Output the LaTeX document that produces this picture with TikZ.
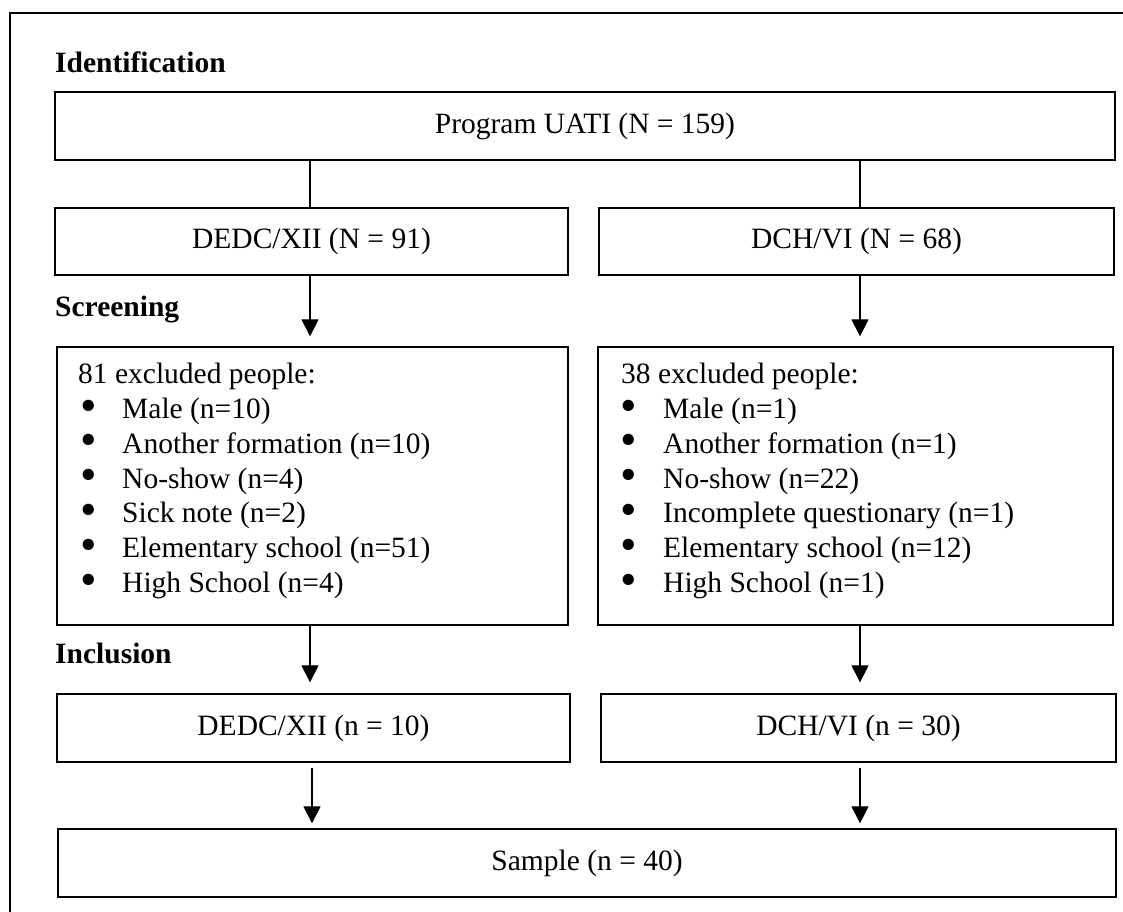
\documentclass[tikz,border=0pt]{standalone}
\usepackage{fontspec}
\usepackage{graphicx}
\setmainfont{Liberation Serif}
\usetikzlibrary{arrows.meta}
\newcommand{\bigbul}{\smash{\raisebox{-2.6pt}{\scalebox{1.6}{•}}}}
\begin{document}
\begin{tikzpicture}[x=1pt,y=-1pt,
  every node/.style={font=\fontsize{29.5pt}{34.8pt}\selectfont},
  box/.style={draw, line width=1.3pt, rectangle, inner sep=0pt},
  heading/.style={anchor=base west, inner sep=0pt, font=\fontsize{29.5pt}{34.8pt}\selectfont\bfseries},
  listtext/.style={anchor=north west, inner sep=0pt, align=left},
  arr/.style={line width=1.2pt, -{Triangle[width=17pt,length=17pt]}},
  link/.style={line width=1.2pt}]
\useasboundingbox (0,0) rectangle (1123,911);
% outer frame
\coordinate (fbl) at (10,915);
\coordinate (ftl) at (10,13);
\coordinate (ftr) at (1127,13);
\draw[line width=2pt] (fbl) -- (ftl) -- (ftr);

% headings
\node[heading] (hid) at (55,72) {Identification};
\node[heading] (hsc) at (55,316) {Screening};
\node[heading] (hin) at (55,663) {Inclusion};

% boxes
\node[box, minimum width=1060pt, minimum height=68pt] (prog) at (585,126) {Program UATI (N = 159)};
\node[box, minimum width=513pt, minimum height=67pt] (dedc) at (311.5,241.5) {DEDC/XII (N = 91)};
\node[box, minimum width=515pt, minimum height=67pt] (dch) at (856.5,241.5) {DCH/VI (N = 68)};
\node[box, minimum width=511pt, minimum height=278pt] (exL) at (312.5,486) {};
\node[box, minimum width=515pt, minimum height=278pt] (exR) at (855.5,486) {};
\node[box, minimum width=513pt, minimum height=68pt] (incL) at (313.5,728) {DEDC/XII (n = 10)};
\node[box, minimum width=515pt, minimum height=68pt] (incR) at (858.5,728) {DCH/VI (n = 30)};
\node[box, minimum width=1058pt, minimum height=68pt] (sample) at (587,863) {Sample (n = 40)};

% list texts
\node[listtext] (exLt) at (78,363) {81 excluded people:\\
\makebox[44pt][l]{\hspace{2pt}\bigbul}Male (n=10)\\
\makebox[44pt][l]{\hspace{2pt}\bigbul}Another formation (n=10)\\
\makebox[44pt][l]{\hspace{2pt}\bigbul}No-show (n=4)\\
\makebox[44pt][l]{\hspace{2pt}\bigbul}Sick note (n=2)\\
\makebox[44pt][l]{\hspace{2pt}\bigbul}Elementary school (n=51)\\
\makebox[44pt][l]{\hspace{2pt}\bigbul}High School (n=4)};
\node[listtext] (exRt) at (621,363) {38 excluded people:\\
\makebox[42pt][l]{\hspace{-1pt}\bigbul}Male (n=1)\\
\makebox[42pt][l]{\hspace{-1pt}\bigbul}Another formation (n=1)\\
\makebox[42pt][l]{\hspace{-1pt}\bigbul}No-show (n=22)\\
\makebox[42pt][l]{\hspace{-1pt}\bigbul}Incomplete questionary (n=1)\\
\makebox[42pt][l]{\hspace{-1pt}\bigbul}Elementary school (n=12)\\
\makebox[42pt][l]{\hspace{-1pt}\bigbul}High School (n=1)};

% connectors
\draw[link] ([xshift=-1.5pt]dedc.north |- prog.south) -- ([xshift=-1.5pt]dedc.north);
\draw[link] ([xshift=3.5pt]dch.north |- prog.south) -- ([xshift=3.5pt]dch.north);
\draw[arr, shorten >=10pt] ([xshift=-1.5pt]dedc.south) -- ([xshift=-1.5pt]dedc.south |- exL.north);
\draw[arr, shorten >=10pt] ([xshift=3.5pt]dch.south) -- ([xshift=3.5pt]dch.south |- exR.north);
\draw[arr, shorten >=11pt] ([xshift=-2.5pt]exL.south) -- ([xshift=-2.5pt]exL.south |- incL.north);
\draw[arr, shorten >=11pt] ([xshift=4.5pt]exR.south) -- ([xshift=4.5pt]exR.south |- incR.north);
\draw[arr, shorten <=5pt, shorten >=5pt] ([xshift=-1.5pt]incL.south) -- ([xshift=-1.5pt]incL.south |- sample.north);
\draw[arr, shorten <=5pt, shorten >=5pt] ([xshift=1.5pt]incR.south) -- ([xshift=1.5pt]incR.south |- sample.north);
\end{tikzpicture}
\end{document}
